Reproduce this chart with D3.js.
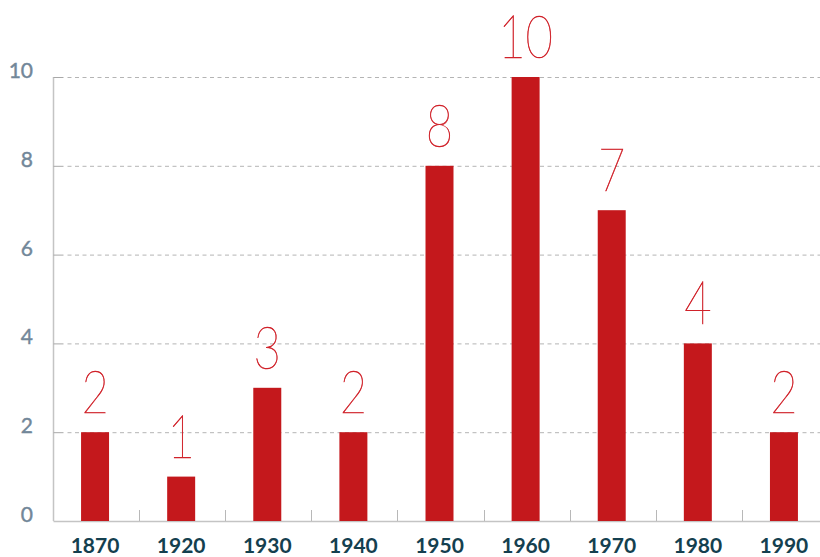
<html>
<script src="https://d3js.org/d3.v7.min.js"></script>
<style>
  body { margin: 0; background: #fff; }
  .grid line { stroke: #b4b4b4; stroke-dasharray: 4, 3.5; }
</style>
<body>
  <div id="chart"></div>
  <script>
    const decades = ["1870", "1920", "1930", "1940", "1950", "1960", "1970", "1980", "1990"];
    const counts = [2, 1, 3, 2, 8, 10, 7, 4, 2];
    const yTicks = [0, 2, 4, 6, 8, 10];

    const width = 820, height = 557;
    const plotLeft = 53.5, plotRight = 828, plotTop = 77, plotBottom = 521;

    const svg = d3.select("#chart").append("svg")
      .attr("width", width)
      .attr("height", height);

    const x = d3.scaleBand()
      .domain(decades)
      .range([52, 827])
      .paddingInner(0.675)
      .paddingOuter(0.3375);

    const y = d3.scaleLinear()
      .domain([0, 10])
      .range([plotBottom, plotTop]);

    // dashed gridlines
    svg.append("g").attr("class", "grid")
      .selectAll("line")
      .data(yTicks.filter(d => d > 0))
      .enter().append("line")
      .attr("x1", plotLeft + 14)
      .attr("x2", width)
      .attr("y1", d => y(d) + 0.5)
      .attr("y2", d => y(d) + 0.5);

    // left axis with inward ticks
    svg.append("line")
      .attr("x1", plotLeft).attr("x2", plotLeft)
      .attr("y1", plotTop).attr("y2", plotBottom)
      .attr("stroke", "#c4c4c4").attr("stroke-width", 1.5);
    svg.append("g").selectAll("line")
      .data(yTicks.filter(d => d > 0))
      .enter().append("line")
      .attr("x1", plotLeft).attr("x2", plotLeft + 10)
      .attr("y1", d => y(d) + 0.5).attr("y2", d => y(d) + 0.5)
      .attr("stroke", "#a8a8a8");

    svg.append("g").selectAll("text")
      .data(yTicks)
      .enter().append("text")
      .attr("x", 33)
      .attr("y", d => y(d) + 1)
      .attr("text-anchor", "end")
      .style("font-family", "Lato, 'Open Sans', sans-serif")
      .style("font-size", "21px")
      .style("fill", "#728799")
      .style("stroke", "#728799")
      .style("stroke-width", "0.4px")
      .text(d => d);

    // bottom axis
    svg.append("line")
      .attr("x1", plotLeft).attr("x2", width)
      .attr("y1", plotBottom + 0.5).attr("y2", plotBottom + 0.5)
      .attr("stroke", "#c4c4c4").attr("stroke-width", 1.5);
    const step = x.step();
    svg.append("g").selectAll("line")
      .data(decades.slice(1))
      .enter().append("line")
      .attr("x1", d => Math.round(x(d) - x.paddingOuter() * step) + 1.5)
      .attr("x2", d => Math.round(x(d) - x.paddingOuter() * step) + 1.5)
      .attr("y1", plotBottom).attr("y2", plotBottom - 11)
      .attr("stroke", "#b8b8b8");

    svg.append("g").selectAll("text")
      .data(decades)
      .enter().append("text")
      .attr("x", d => x(d) + x.bandwidth() / 2)
      .attr("y", 553)
      .attr("text-anchor", "middle")
      .style("font-family", "Lato, 'Open Sans', sans-serif")
      .style("font-weight", "bold")
      .style("font-size", "21px")
      .style("fill", "#14404f")
      .text(d => d);

    // bars
    svg.append("g").selectAll("rect")
      .data(decades)
      .enter().append("rect")
      .attr("x", d => x(d))
      .attr("width", x.bandwidth())
      .attr("y", (d, i) => y(counts[i]))
      .attr("height", (d, i) => plotBottom - y(counts[i]))
      .attr("fill", "#c4181c");

    // value labels, thin weight
    svg.append("g").selectAll("text")
      .data(decades)
      .enter().append("text")
      .attr("transform", (d, i) => `translate(${x(d) + x.bandwidth() / 2},${y(counts[i]) - 19}) scale(0.8,1)`)
      .attr("text-anchor", "middle")
      .style("font-family", "Lato, sans-serif")
      .style("font-weight", "100")
      .style("font-size", "59px")
      .style("fill", "#d0222a")
      .style("stroke", "#d0222a")
      .style("stroke-width", "0.6px")
      .text((d, i) => counts[i]);
  </script>
</body>
</html>
